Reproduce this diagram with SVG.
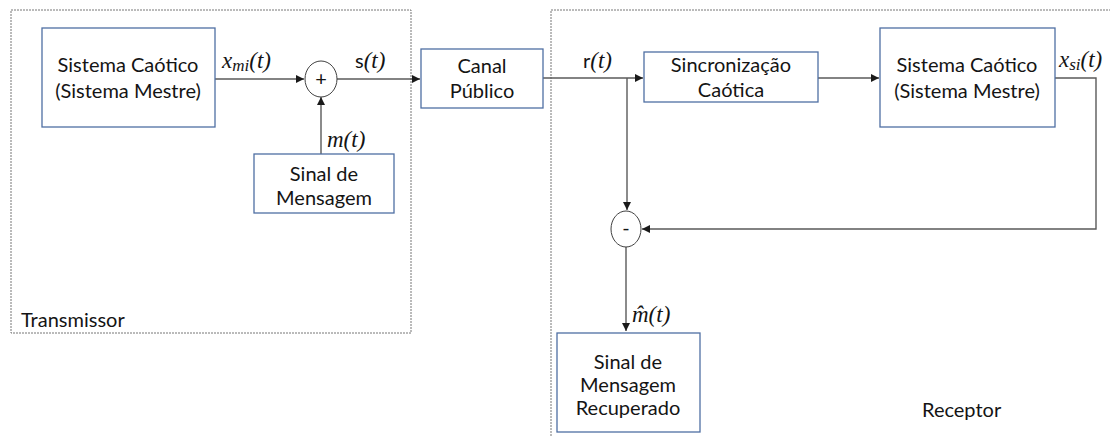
<svg xmlns="http://www.w3.org/2000/svg" width="1110" height="436" viewBox="0 0 1110 436">
  <style>
    .frame { fill: none; stroke: #777777; stroke-width: 1; stroke-dasharray: 2 1; }
    .box { fill: #ffffff; stroke: #4f6fa3; stroke-width: 1.3; }
    .sum { fill: #ffffff; stroke: #404040; stroke-width: 1; }
    .wire { fill: none; stroke: #5a5a5a; stroke-width: 1.4; }
    .lbl { font-family: Lato, "Liberation Sans", sans-serif; font-size: 20px; fill: #141414; text-anchor: middle; }
    .cap { font-family: Lato, "Liberation Sans", sans-serif; font-size: 20px; fill: #141414; }
    .math { font-family: "Liberation Serif", serif; font-style: italic; font-size: 23px; fill: #141414; }
    .up { font-family: Lato, "Liberation Sans", sans-serif; font-style: normal; font-size: 20px; }
    .sub { font-size: 17px; }
  </style>
  <defs>
    <marker id="arrow" viewBox="0 0 10 10" refX="10" refY="5" markerWidth="8" markerHeight="8" markerUnits="userSpaceOnUse" orient="auto">
      <path d="M0,0 L10,5 L0,10 z" fill="#1a1a1a"/>
    </marker>
  </defs>
  <rect width="1110" height="436" fill="#ffffff"/>

  <!-- transmitter / receiver frames -->
  <g id="transmissor">
    <rect class="frame" x="11" y="10" width="400" height="323"/>
    <text class="cap" x="21" y="327">Transmissor</text>
  </g>
  <g id="receptor">
    <path class="frame" d="M551,436 L551,10 L1112,10"/>
    <text class="cap" x="922" y="417">Receptor</text>
  </g>

  <!-- connectors -->
  <g id="connectors">
    <path class="wire" d="M215,79 L304,79" marker-end="url(#arrow)"/>
    <path class="wire" d="M321,154 L321,97" marker-end="url(#arrow)"/>
    <path class="wire" d="M337,79 L420,79" marker-end="url(#arrow)"/>
    <path class="wire" d="M543,78 L643,78" marker-end="url(#arrow)"/>
    <path class="wire" d="M627,78 L627,210" marker-end="url(#arrow)"/>
    <path class="wire" d="M818,78 L879,78" marker-end="url(#arrow)"/>
    <path class="wire" d="M1055,78 L1096,78 L1096,229 L642,229" marker-end="url(#arrow)"/>
    <path class="wire" d="M626,247 L626,331" marker-end="url(#arrow)"/>
  </g>

  <!-- signal labels -->
  <g id="labels">
    <text class="math" x="222" y="68">x<tspan class="sub" dy="3">mi</tspan><tspan dy="-3">(t)</tspan></text>
    <text class="math" x="355" y="68"><tspan class="up">s</tspan>(t)</text>
    <text class="math" x="327" y="147">m(t)</text>
    <text class="math" x="583" y="68"><tspan class="up">r</tspan>(t)</text>
    <text class="math" x="1059" y="67">x<tspan class="sub" dy="3">si</tspan><tspan dy="-3">(t)</tspan></text>
    <text class="math" x="632" y="322">m̂(t)</text>
  </g>

  <g id="sistema-mestre-tx">
    <rect class="box" x="42" y="28" width="173" height="99"/>
    <text class="lbl" x="128" y="72">Sistema Caótico</text>
    <text class="lbl" x="128" y="98">(Sistema Mestre)</text>
  </g>
  <g id="somador">
    <ellipse class="sum" cx="321" cy="79" rx="16" ry="18"/>
    <text class="lbl" x="321" y="86">+</text>
  </g>
  <g id="sinal-mensagem">
    <rect class="box" x="254" y="154" width="140" height="59"/>
    <text class="lbl" x="324" y="181">Sinal de</text>
    <text class="lbl" x="324" y="205">Mensagem</text>
  </g>
  <g id="canal-publico">
    <rect class="box" x="421" y="49" width="122" height="59"/>
    <text class="lbl" x="482" y="73">Canal</text>
    <text class="lbl" x="482" y="98">Público</text>
  </g>
  <g id="sincronizacao">
    <rect class="box" x="644" y="52" width="174" height="50"/>
    <text class="lbl" x="731" y="72">Sincronização</text>
    <text class="lbl" x="731" y="97">Caótica</text>
  </g>
  <g id="sistema-mestre-rx">
    <rect class="box" x="880" y="28" width="175" height="99"/>
    <text class="lbl" x="967" y="72">Sistema Caótico</text>
    <text class="lbl" x="967" y="98">(Sistema Mestre)</text>
  </g>
  <g id="subtrator">
    <ellipse class="sum" cx="626" cy="229" rx="15" ry="18"/>
    <text class="lbl" x="626" y="235">-</text>
  </g>
  <g id="sinal-recuperado">
    <rect class="box" x="557" y="333" width="143" height="99"/>
    <text class="lbl" x="628" y="369">Sinal de</text>
    <text class="lbl" x="628" y="392">Mensagem</text>
    <text class="lbl" x="628" y="415">Recuperado</text>
  </g>
</svg>
